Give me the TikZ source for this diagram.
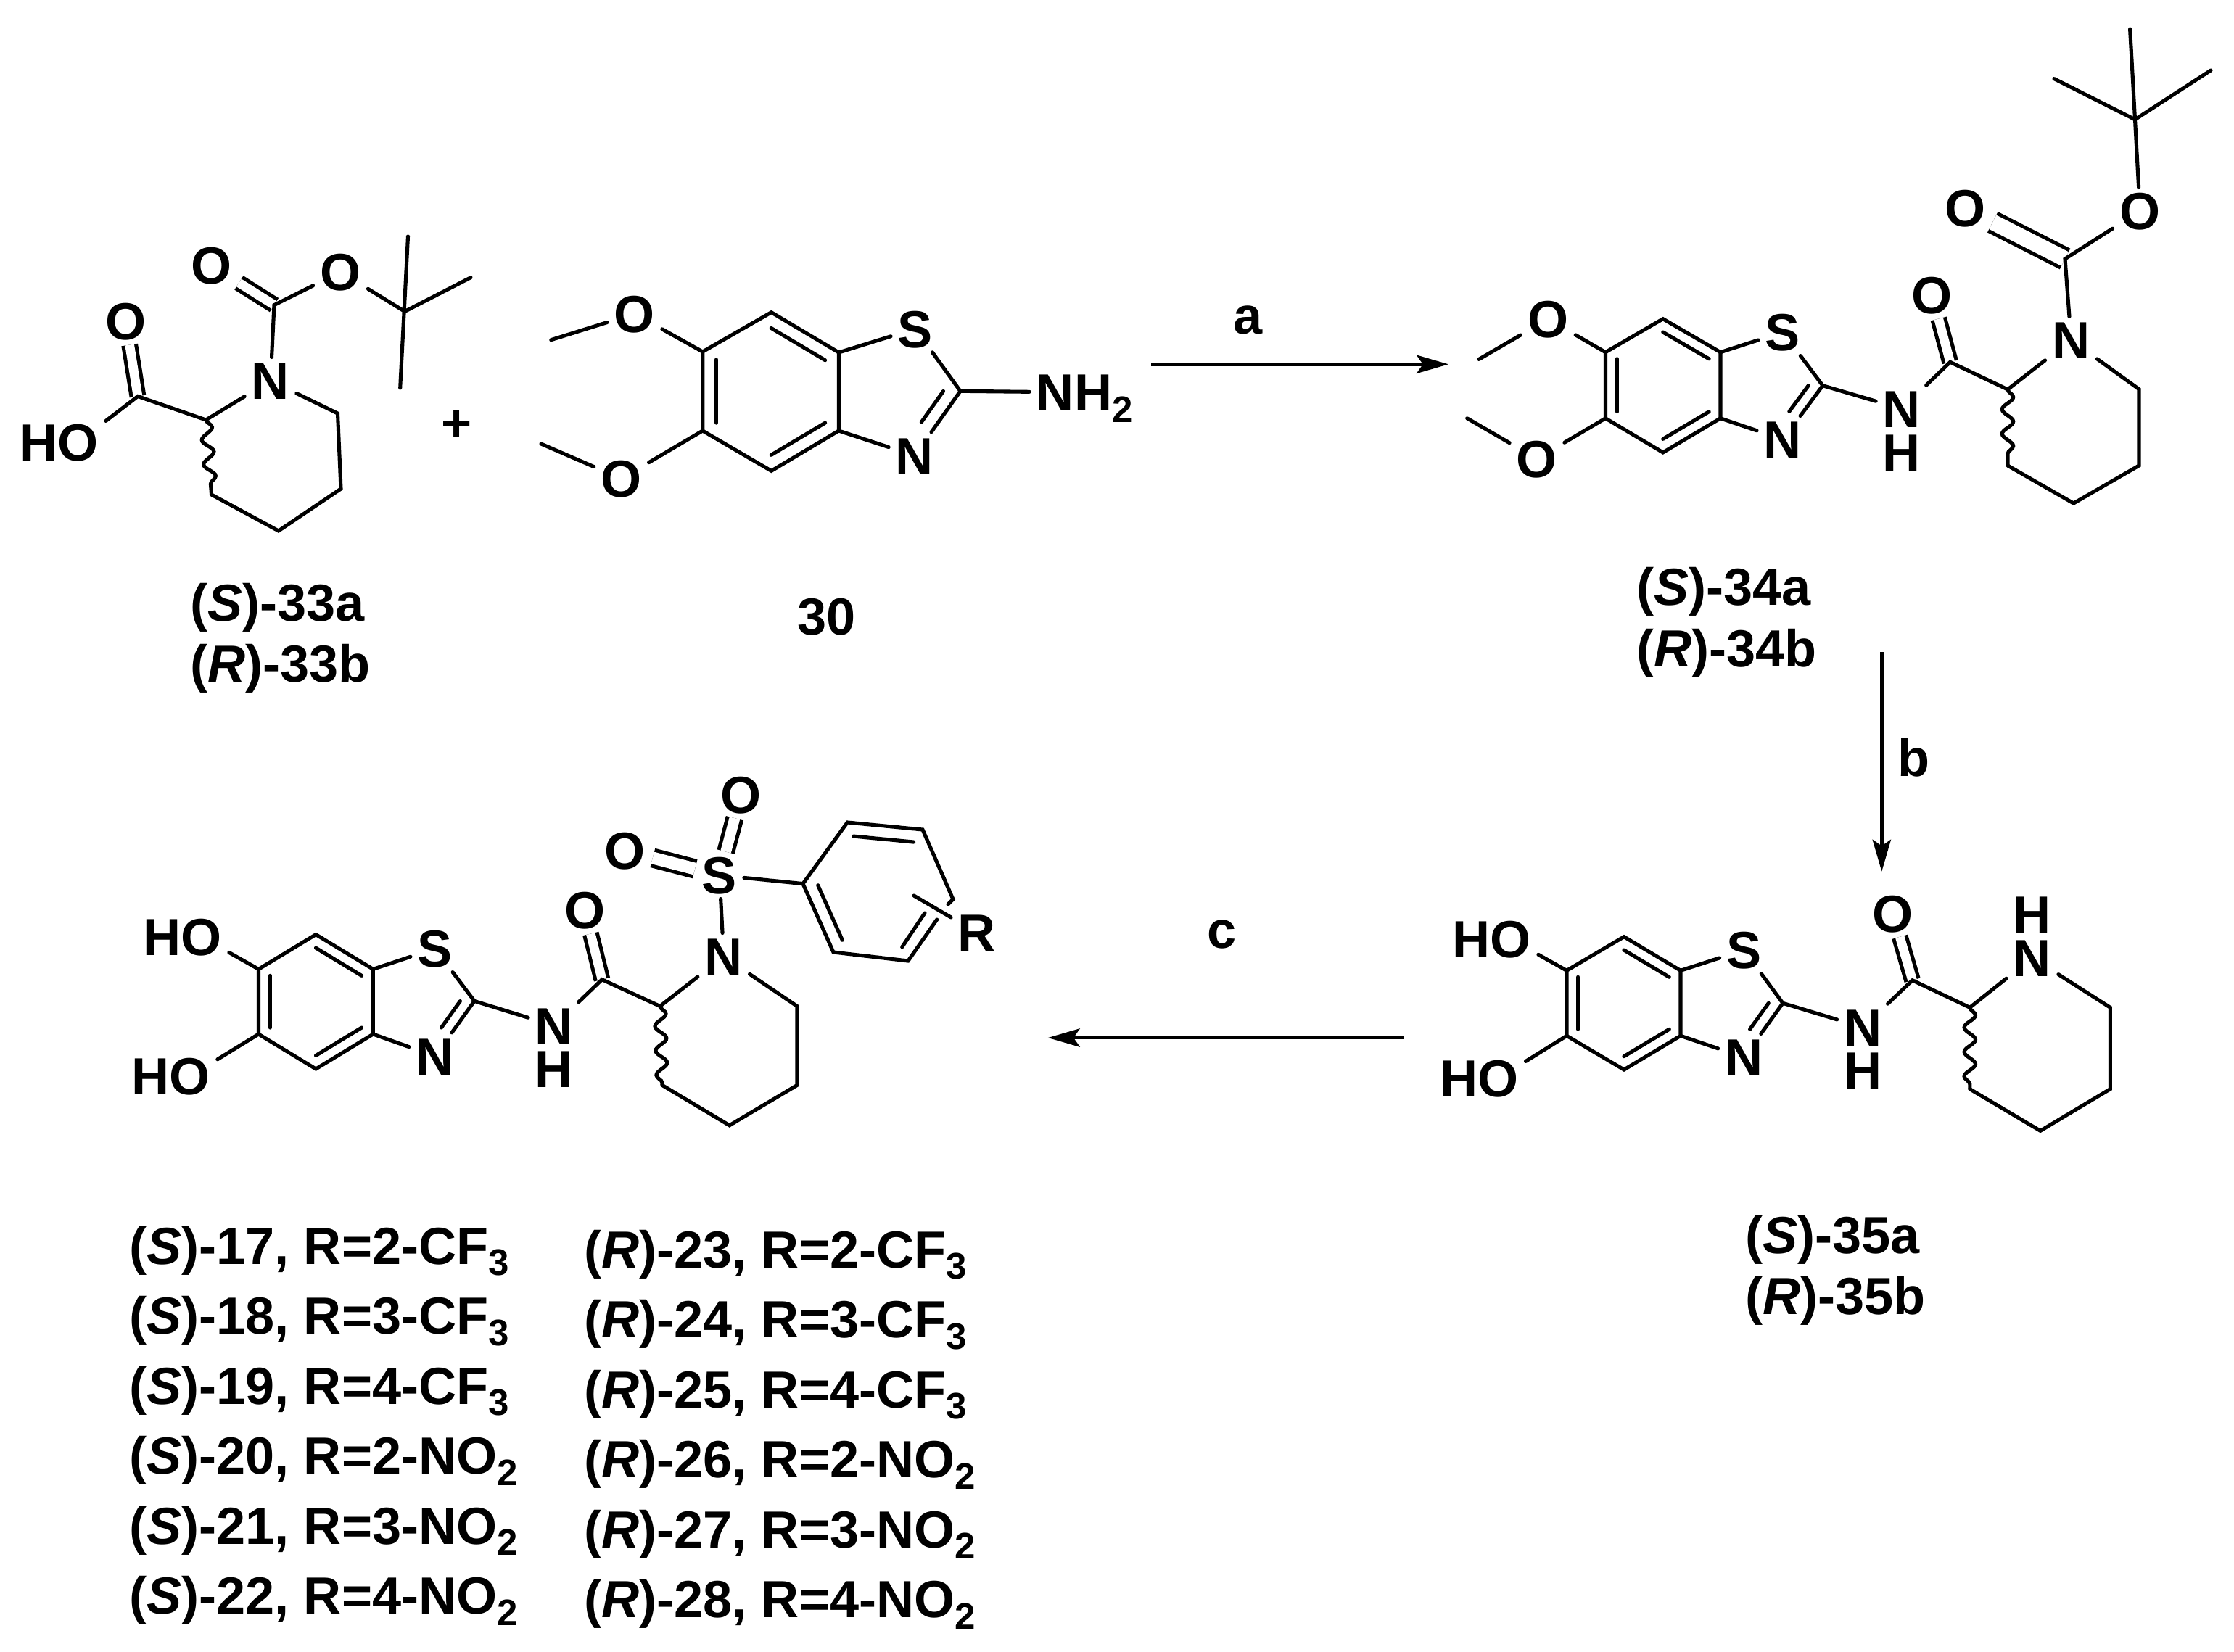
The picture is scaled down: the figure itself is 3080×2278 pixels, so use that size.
\documentclass[tikz,border=0pt]{standalone}
\usepackage{fontspec}
\setmainfont{Liberation Sans}
\usetikzlibrary{arrows.meta,calc,decorations.pathmorphing}

\newcommand{\lowd}[1]{\raisebox{-4.5pt}{\fontsize{14.5}{16}\selectfont #1}}
\newcommand{\chiral}[2]{(\textit{#1})-#2}

% inner line of a ring double bond
\newcommand{\ringdbl}[3]{\draw[bond] ($(#3)!.8!(#1)$) -- ($(#3)!.8!(#2)$);}

% fused benzothiazole, all points named with the prefix
\newcommand{\bztbonds}[1]{
    \coordinate (#1rc) at ($(#1b6)!.5!(#1b3a)$);
    \coordinate (#1rt) at ($(#1b7a)!.5!(#1b3a)$);
    \draw[bond] (#1b6) -- (#1b7) -- (#1b7a) -- (#1b3a) -- (#1b4) -- (#1b5) -- cycle;
    \ringdbl{#1b6}{#1b5}{#1rc}
    \ringdbl{#1b7}{#1b7a}{#1rc}
    \ringdbl{#1b3a}{#1b4}{#1rc}
    \draw[bond] (#1b7a) -- (#1bs);
    \draw[bond] (#1b3a) -- (#1bn);
    \draw[bond] (#1b2) -- (#1bs);
    \draw[bond] (#1b2) -- (#1bn);
    \draw[bond] ($(#1b2)!.14!(#1rt)$) -- ($(#1b2)!.14!(#1rt) + .48*(#1bn) - .48*(#1b2)$);
}

% piperidine with its wavy bond
\newcommand{\pipbonds}[1]{
    \draw[bond] (#1c2) -- (#1n);
    \draw[bond] (#1n) -- (#1c6) -- (#1c5) -- (#1c4) -- (#1c3);
    \draw[wavy] (#1c2) -- (#1c3);
}

\begin{document}
\begin{tikzpicture}[
                    x=0.01cm, y=-0.01cm,
                    bond/.style = {line width=1.45pt, line join=miter, line cap=round},
                    dbl/.style = {line width=1.45pt, double, double distance=#1},
                    dbl/.default = 3.6pt,
                    wavy/.style = {line width=1.45pt, decorate,
                        decoration={snake, segment length=9.6pt, amplitude=2.2pt}},
                    atom/.style = {inner xsep=2.6pt, inner ysep=1.7pt, text height=14.7pt, text depth=0pt,
                        font=\fontsize{20.5}{24}\selectfont\bfseries},
                    lbl/.style = {anchor=base west, inner sep=0pt,
                        font=\fontsize{20.5}{24}\selectfont\bfseries},
                    rxn/.style = {line width=1.25pt, -{Stealth[length=12.5pt, width=7.2pt, inset=2.5pt]}}]
    \useasboundingbox (0,0) rectangle (3080,2278);

    % acid 33
    \coordinate (m33ca) at (190,546.5);
    \coordinate (m33c2) at (284,579);
    \coordinate (m33c6) at (465.5,570);
    \coordinate (m33c5) at (470,674);
    \coordinate (m33c4) at (384,732);
    \coordinate (m33c3) at (291.5,682);
    \coordinate (m33cb) at (378,420.6);
    \coordinate (m33ct) at (558,429.5);
    \coordinate (m33me1) at (562.5,326);
    \coordinate (m33me2) at (649,382.7);
    \coordinate (m33me3) at (551.7,535);
    \node[atom] (m33oa) at (173.5,443) {O};
    \node[atom] (m33oh) at (108,609.5) {\llap{H}O};
    \node[atom] (m33n) at (373,525) {N};
    \node[atom] (m33ob) at (291.5,366) {O};
    \node[atom] (m33oe) at (469.5,375) {O};
    \draw[dbl] (m33ca) -- (m33oa);
    \draw[dbl] (m33cb) -- (m33ob);
    \draw[bond] (m33oh) -- (m33ca) -- (m33c2);
    \pipbonds{m33}
    \draw[bond] (m33n) -- (m33cb) -- (m33oe);
    \draw[bond] (m33oe) -- (m33ct);
    \draw[bond] (m33me1) -- (m33me3);
    \draw[bond] (m33ct) -- (m33me2);
    \node[lbl] (m33sa) at (262,856) {\chiral{S}{33a}};
    \node[lbl] (m33sb) at (262,940.7) {\chiral{R}{33b}};

    \node[atom] (plus) at (630,583) {+};

    % amine 30
    \coordinate (m30b6) at (968.7,485);
    \coordinate (m30b7) at (1063.4,430.7);
    \coordinate (m30b7a) at (1156.4,486);
    \coordinate (m30b3a) at (1156.4,594);
    \coordinate (m30b4) at (1063.4,649.3);
    \coordinate (m30b5) at (968.7,594);
    \coordinate (m30b2) at (1324,539.3);
    \coordinate (m30me1) at (759.7,468.7);
    \coordinate (m30me2) at (746,612);
    \node[atom] (m30bs) at (1262,453.3) {S};
    \node[atom] (m30bn) at (1261,628.3) {N};
    \node[atom] (m30o1) at (875,432.7) {O};
    \node[atom] (m30o2) at (856.7,660) {O};
    \node[atom] (m30nh) at (1455,540.7) {N\rlap{H\lowd{2}}};
    \bztbonds{m30}
    \draw[bond] (m30b6) -- (m30o1);
    \draw[bond] (m30o1) -- (m30me1);
    \draw[bond] (m30b5) -- (m30o2);
    \draw[bond] (m30o2) -- (m30me2);
    \draw[bond] (m30b2) -- (m30nh);
    \node[lbl] (m30s) at (1099,875) {30};

    % step a
    \coordinate (a1) at (1587,502.3);
    \coordinate (a2) at (1997,502.3);
    \draw[rxn] (a1) -- (a2);
    \node[lbl] (stepa) at (1700,460) {a};

    % amide 34
    \coordinate (m34b6) at (2213.5,485.7);
    \coordinate (m34b7) at (2292.7,439.7);
    \coordinate (m34b7a) at (2372,485.7);
    \coordinate (m34b3a) at (2372,576.8);
    \coordinate (m34b4) at (2292.7,623.9);
    \coordinate (m34b5) at (2213.5,576.8);
    \coordinate (m34b2) at (2513,531.7);
    \coordinate (m34me1) at (2039,495.4);
    \coordinate (m34me2) at (2022.7,576.8);
    \coordinate (m34ca) at (2688.7,499.3);
    \coordinate (m34c2) at (2768,537);
    \coordinate (m34c6) at (2949,536.6);
    \coordinate (m34c5) at (2949,642);
    \coordinate (m34c4) at (2858.8,694);
    \coordinate (m34c3) at (2768,642);
    \coordinate (m34cb) at (2847,357);
    \coordinate (m34ct) at (2943.5,164.8);
    \coordinate (m34me3) at (2936.6,40);
    \coordinate (m34me4) at (2832,108.6);
    \coordinate (m34me5) at (3048,97);
    \node[atom] (m34bs) at (2458,458) {S};
    \node[atom] (m34bn) at (2458,606) {N};
    \node[atom] (m34o1) at (2134.3,440) {O};
    \node[atom] (m34o2) at (2119,632.6) {O};
    \node[atom] (m34nh) at (2622,563.7) {N};
    \node[atom] (m34h) at (2622,623.9) {H};
    \node[atom] (m34oa) at (2664,407) {O};
    \node[atom] (m34n) at (2855.4,469) {N};
    \node[atom] (m34ob) at (2709.4,287) {O};
    \node[atom] (m34oe) at (2950.4,291) {O};
    \draw[dbl] (m34ca) -- (m34oa);
    \draw[dbl=6.2pt] (m34cb) -- (m34ob);
    \bztbonds{m34}
    \draw[bond] (m34b6) -- (m34o1);
    \draw[bond] (m34o1) -- (m34me1);
    \draw[bond] (m34b5) -- (m34o2);
    \draw[bond] (m34o2) -- (m34me2);
    \draw[bond] (m34b2) -- (m34nh);
    \draw[bond] (m34nh) -- (m34ca) -- (m34c2);
    \pipbonds{m34}
    \draw[bond] (m34n) -- (m34cb) -- (m34oe);
    \draw[bond] (m34oe) -- (m34ct);
    \draw[bond] (m34ct) -- (m34me3);
    \draw[bond] (m34ct) -- (m34me4);
    \draw[bond] (m34ct) -- (m34me5);
    \node[lbl] (m34sa) at (2256,834) {\chiral{S}{34a}};
    \node[lbl] (m34sb) at (2256,919) {\chiral{R}{34b}};

    % step b
    \coordinate (b1) at (2594.3,899);
    \coordinate (b2) at (2594.3,1201.7);
    \draw[rxn] (b1) -- (b2);
    \node[lbl] (stepb) at (2616,1070) {b};

    % deprotected 35
    \coordinate (m35b6) at (2160,1338.3);
    \coordinate (m35b7) at (2239,1291.7);
    \coordinate (m35b7a) at (2317,1338.3);
    \coordinate (m35b3a) at (2317,1428.3);
    \coordinate (m35b4) at (2239,1475);
    \coordinate (m35b5) at (2160,1428.3);
    \coordinate (m35b2) at (2458,1383.3);
    \coordinate (m35ca) at (2636.6,1351.7);
    \coordinate (m35c2) at (2715.8,1389.3);
    \coordinate (m35c6) at (2909.4,1389.3);
    \coordinate (m35c5) at (2909.4,1501.7);
    \coordinate (m35c4) at (2813,1559.3);
    \coordinate (m35c3) at (2715.8,1501.7);
    \node[atom] (m35bs) at (2404.5,1310) {S};
    \node[atom] (m35bn) at (2404.5,1458) {N};
    \node[atom] (m35o1) at (2083,1295) {\llap{H}O};
    \node[atom] (m35o2) at (2065.6,1487) {\llap{H}O};
    \node[atom] (m35nh) at (2568.5,1416.7) {N};
    \node[atom] (m35h) at (2568.5,1476) {H};
    \node[atom] (m35oa) at (2609.8,1259.3) {O};
    \node[atom] (m35n) at (2802,1320.7) {N};
    \node[atom] (m35hn) at (2802,1261) {H};
    \draw[dbl] (m35ca) -- (m35oa);
    \bztbonds{m35}
    \draw[bond] (m35b6) -- (m35o1);
    \draw[bond] (m35b5) -- (m35o2);
    \draw[bond] (m35b2) -- (m35nh);
    \draw[bond] (m35nh) -- (m35ca) -- (m35c2);
    \pipbonds{m35}
    \node[lbl] (m35sa) at (2406,1728) {\chiral{S}{35a}};
    \node[lbl] (m35sb) at (2406,1812.7) {\chiral{R}{35b}};

    % step c
    \coordinate (c1) at (1935.8,1431);
    \coordinate (c2) at (1444.8,1431);
    \draw[rxn] (c1) -- (c2);
    \node[lbl] (stepc) at (1664,1307) {c};

    % sulfonamide 17
    \coordinate (m17b6) at (356.5,1336.4);
    \coordinate (m17b7) at (435.5,1288.6);
    \coordinate (m17b7a) at (514.4,1336.4);
    \coordinate (m17b3a) at (514.4,1426);
    \coordinate (m17b4) at (435.5,1474);
    \coordinate (m17b5) at (356.5,1426);
    \coordinate (m17b2) at (654,1380.4);
    \coordinate (m17ca) at (830,1350.7);
    \coordinate (m17c2) at (910,1387.5);
    \coordinate (m17c6) at (1099,1387.5);
    \coordinate (m17c5) at (1099,1496.4);
    \coordinate (m17c4) at (1005.7,1551.8);
    \coordinate (m17c3) at (913,1496.4);
    \coordinate (ph1) at (1107,1218.6);
    \coordinate (ph2) at (1168.3,1134);
    \coordinate (ph3) at (1272,1144);
    \coordinate (ph4) at (1314,1240);
    \coordinate (ph5) at (1252,1325);
    \coordinate (ph6) at (1149,1313);
    \coordinate (phc) at ($(ph1)!.5!(ph4)$);
    \coordinate (phi) at (1275,1259);
    \coordinate (phr) at (1260,1235);
    \coordinate (phg1) at (1307,1247);
    \coordinate (phg2) at (1291.7,1268);
    \node[atom] (m17bs) at (599.8,1308) {S};
    \node[atom] (m17bn) at (599.8,1456.4) {N};
    \node[atom] (m17o1) at (278,1292) {\llap{H}O};
    \node[atom] (m17o2) at (262,1484) {\llap{H}O};
    \node[atom] (m17nh) at (764,1414.3) {N};
    \node[atom] (m17h) at (764,1474) {H};
    \node[atom] (m17oa) at (806.3,1255) {O};
    \node[atom] (m17n) at (997.7,1319) {N};
    \node[atom] (m17so) at (992,1207) {S};
    \node[atom] (m17os1) at (1021.6,1095.7) {O};
    \node[atom] (m17os2) at (862,1173) {O};
    \node[atom] (m17r) at (1347,1286) {R};
    \draw[dbl] (m17ca) -- (m17oa);
    \draw[dbl=4.2pt] (m17so) -- (m17os1);
    \draw[dbl=4.8pt] (m17so) -- (m17os2);
    \bztbonds{m17}
    \draw[bond] (m17b6) -- (m17o1);
    \draw[bond] (m17b5) -- (m17o2);
    \draw[bond] (m17b2) -- (m17nh);
    \draw[bond] (m17nh) -- (m17ca) -- (m17c2);
    \pipbonds{m17}
    \draw[bond] (m17n) -- (m17so);
    \draw[bond] (m17so) -- (ph1);
    \draw[bond] (phg2) -- (ph5) -- (ph6) -- (ph1) -- (ph2) -- (ph3) -- (ph4) -- (phg1);
    \ringdbl{ph2}{ph3}{phc}
    \ringdbl{ph1}{ph6}{phc}
    \draw[bond] ($(phc)!.8!(ph5)$) -- (phi);
    \draw[bond] (phr) -- (m17r);

    % compound table, one row per R group
    \foreach \nS/\nR/\rgrp [count=\i from 0] in {17/23/2-CF\lowd{3}, 18/24/3-CF\lowd{3}, 19/25/4-CF\lowd{3},
                                                20/26/2-NO\lowd{2}, 21/27/3-NO\lowd{2}, 22/28/4-NO\lowd{2}} {
        \node[lbl] (rowl\i) at (178,1743+96.5*\i) {\chiral{S}{\nS}, R=\rgrp};
        \node[lbl] (rowr\i) at (805,1748+96.5*\i) {\chiral{R}{\nR}, R=\rgrp};
    }
\end{tikzpicture}
\end{document}
